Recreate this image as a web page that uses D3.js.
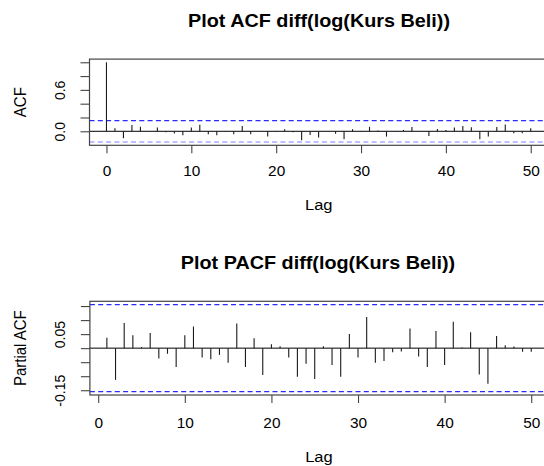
<!DOCTYPE html>
<html>
<head>
<meta charset="utf-8">
<script src="https://cdn.jsdelivr.net/npm/d3@7"></script>
<style>
  html, body { margin: 0; padding: 0; background: #fff; }
  svg { display: block; }
  text { font-family: "Liberation Sans", Arial, Helvetica, sans-serif; fill: #000; }
</style>
</head>
<body>
<script>
// ---------------- DATA ----------------
const acfLags = d3.range(0, 51);
const acfValues = [
  1.0, 0.045, -0.10, 0.09, 0.065, 0.005, 0.055, -0.015, -0.032, -0.058,
  0.055, 0.095, -0.043, -0.058, -0.005, -0.043, 0.077, -0.043, 0.005, -0.077,
  -0.005, 0.03, -0.015, -0.13, -0.055, -0.09, 0.005, -0.034, -0.116, 0.03,
  -0.005, 0.065, 0.012, -0.077, -0.005, 0.02, 0.063, 0.005, -0.07, 0.032,
  0.02, 0.055, 0.077, 0.057, -0.116, -0.077, 0.063, 0.10, -0.03, -0.03,
  0.043
];
const pacfLags = d3.range(1, 51);
const pacfValues = [
  0.037, -0.113, 0.090, 0.046, 0.004, 0.054, -0.037, -0.020, -0.067, 0.046,
  0.077, -0.033, -0.040, -0.024, -0.052, 0.088, -0.067, 0.035, -0.096, 0.014,
  0.007, -0.033, -0.102, -0.056, -0.110, 0.007, -0.060, -0.102, 0.050, -0.033,
  0.111, -0.052, -0.046, -0.015, -0.012, 0.070, -0.030, -0.067, 0.061, -0.060,
  0.094, 0.002, 0.057, -0.094, -0.127, 0.043, 0.010, 0.006, -0.013, -0.013
];
const confBound = 0.155;
const xTickValues = [0, 10, 20, 30, 40, 50];
const acfYTicks = [0, 0.2, 0.4, 0.6, 0.8, 1.0];
const acfYLabels = { "0": "0.0", "0.6": "0.6" };
const pacfYTicks = [-0.15, -0.10, -0.05, 0, 0.05, 0.10, 0.15];
const pacfYLabels = { "0.05": "0.05", "-0.15": "-0.15" };
const titles = ["Plot ACF diff(log(Kurs Beli))", "Plot PACF diff(log(Kurs Beli))"];
const yTitles = ["ACF", "Partial ACF"];
const xTitle = "Lag";

// ---------------- LAYOUT ----------------
const W = 544, H = 466;
const SX = 1.1; // horizontal text stretch of the reference
const svg = d3.select("body").append("svg").attr("width", W).attr("height", H);

const panels = [
  {
    lags: acfLags, values: acfValues,
    xDomain: [-2, 52], xRange: [89.5, 547.7],
    yDomain: [-0.203, 1.046], yRange: [145.3, 59.1],
    yTicks: acfYTicks, yLabels: acfYLabels,
    title: titles[0], yTitle: yTitles[0],
    titleY: 27, titleX: 319, xLabY: 30.7, xTitleY: 209.5, yTitleX: 26, lowerDashColor: "#8080ff"
  },
  {
    lags: pacfLags, values: pacfValues,
    xDomain: [-0.96, 51.96], xRange: [89.9, 548.2],
    yDomain: [-0.167, 0.167], yRange: [395, 301.3],
    yTicks: pacfYTicks, yLabels: pacfYLabels,
    title: titles[1], yTitle: yTitles[1],
    titleY: 269, titleX: 318, xLabY: 33, xTitleY: 462, yTitleX: 26, lowerDashColor: "#2a2aff"
  }
];

panels.forEach(p => {
  const x = d3.scaleLinear().domain(p.xDomain).range(p.xRange);
  const y = d3.scaleLinear().domain(p.yDomain).range(p.yRange);
  const g = svg.append("g");
  const x0 = p.xRange[0], x1 = p.xRange[1], yb = p.yRange[0], yt = p.yRange[1];

  // confidence bounds
  g.append("line").attr("x1", x0).attr("x2", x1)
    .attr("y1", y(confBound)).attr("y2", y(confBound))
    .attr("stroke", "#2a2aff").attr("stroke-width", 1.2).attr("stroke-dasharray", "5,3.3");
  g.append("line").attr("x1", x0).attr("x2", x1)
    .attr("y1", y(-confBound)).attr("y2", y(-confBound))
    .attr("stroke", p.lowerDashColor).attr("stroke-width", 1.2).attr("stroke-dasharray", "5,3.3");

  // zero line
  g.append("line").attr("x1", x0).attr("x2", x1)
    .attr("y1", y(0)).attr("y2", y(0))
    .attr("stroke", "#000").attr("stroke-width", 1);

  // bars
  g.selectAll("line.bar").data(p.lags.map((l, i) => ({ lag: l, v: p.values[i] })))
    .enter().append("line").attr("class", "bar")
    .attr("x1", d => x(d.lag)).attr("x2", d => x(d.lag))
    .attr("y1", y(0)).attr("y2", d => y(d.v))
    .attr("stroke", "#1a1a1a").attr("stroke-width", 1.1);

  // box
  g.append("rect").attr("x", x0).attr("y", yt)
    .attr("width", x1 - x0).attr("height", yb - yt)
    .attr("fill", "none").attr("stroke", "#444").attr("stroke-width", 1.2);

  // x axis
  const xa = g.append("g").attr("transform", `translate(0,${yb})`)
    .call(d3.axisBottom(x).tickValues(xTickValues).tickSize(8).tickFormat(d3.format("d")));
  xa.select(".domain").remove();
  xa.selectAll(".tick line").attr("stroke", "#444").attr("stroke-width", 1.1);
  xa.selectAll(".tick text")
    .attr("y", p.xLabY).attr("dy", 0)
    .attr("transform", `scale(${SX},1)`)
    .style("font-size", "14px").attr("fill", "#000");

  // y axis
  const ya = g.append("g").attr("transform", `translate(${x0},0)`)
    .call(d3.axisLeft(y).tickValues(p.yTicks).tickSize(9)
      .tickFormat(d => p.yLabels[String(+d.toFixed(2))] || ""));
  ya.select(".domain").remove();
  ya.selectAll(".tick line").attr("stroke", "#444").attr("stroke-width", 1.1);
  ya.selectAll(".tick text")
    .attr("x", 0).attr("y", 0).attr("dy", 0)
    .attr("text-anchor", "middle")
    .attr("transform", `translate(${64.5 - x0},0) scale(${SX},1) rotate(-90)`)
    .style("font-size", "14px").attr("fill", "#000");

  // titles
  svg.append("text").attr("text-anchor", "middle")
    .attr("transform", `translate(${p.titleX},${p.titleY}) scale(${SX},1)`)
    .style("font-size", "18px").style("font-weight", "bold")
    .text(p.title);
  svg.append("text").attr("text-anchor", "middle")
    .attr("transform", `translate(${(x0 + 548) / 2},${p.xTitleY}) scale(${SX},1)`)
    .style("font-size", "15px")
    .text(xTitle);
  svg.append("text").attr("text-anchor", "middle")
    .attr("transform", `translate(${p.yTitleX},${(yt + yb) / 2}) scale(${SX},1) rotate(-90)`)
    .style("font-size", "15px")
    .text(p.yTitle);
});
</script>
</body>
</html>
